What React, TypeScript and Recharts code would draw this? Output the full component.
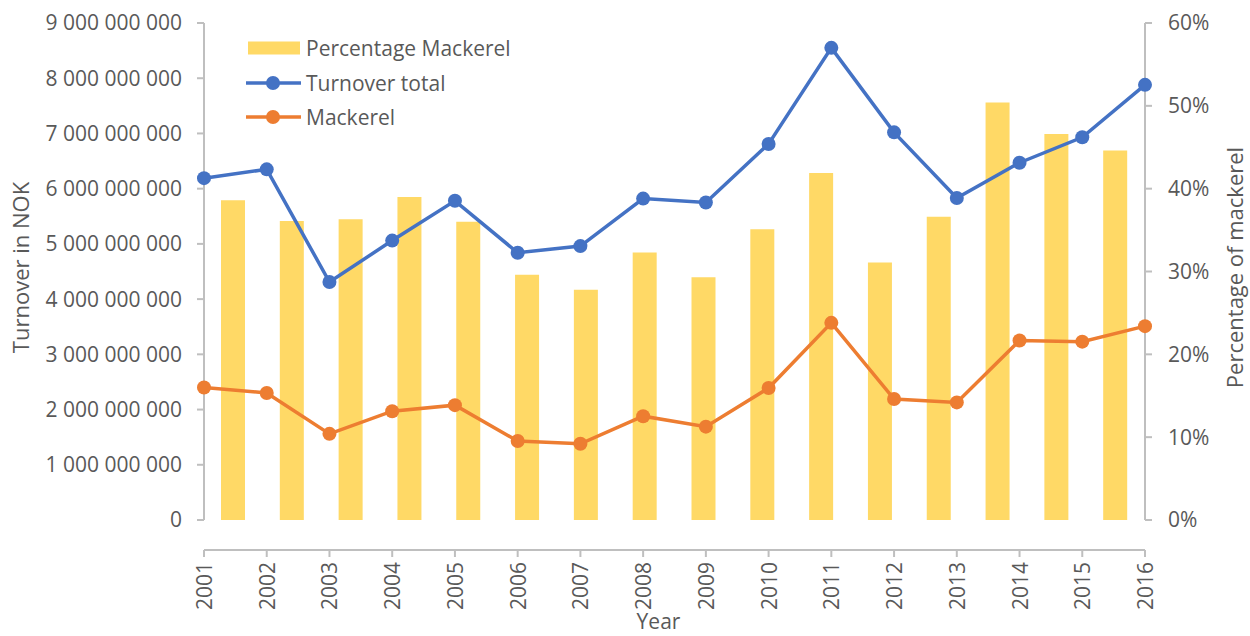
import React from "react";
import { ComposedChart, Bar, Line, XAxis, YAxis, Legend, Label } from "recharts";

const years = [
  "2001", "2002", "2003", "2004", "2005", "2006", "2007", "2008",
  "2009", "2010", "2011", "2012", "2013", "2014", "2015", "2016",
];
const turnoverTotal = [
  6.19e9, 6.35e9, 4.31e9, 5.06e9, 5.78e9, 4.84e9, 4.96e9, 5.82e9,
  5.75e9, 6.81e9, 8.55e9, 7.02e9, 5.83e9, 6.47e9, 6.93e9, 7.88e9,
];
const mackerel = [
  2.4e9, 2.3e9, 1.56e9, 1.97e9, 2.08e9, 1.43e9, 1.38e9, 1.88e9,
  1.69e9, 2.39e9, 3.57e9, 2.19e9, 2.13e9, 3.25e9, 3.23e9, 3.51e9,
];
const percentageMackerel = [
  38.6, 36.1, 36.3, 39.0, 36.0, 29.6, 27.8, 32.3,
  29.3, 35.1, 41.9, 31.1, 36.6, 50.4, 46.6, 44.6,
];
const turnoverTicks = [0, 1e9, 2e9, 3e9, 4e9, 5e9, 6e9, 7e9, 8e9, 9e9];
const percentTicks = [0, 10, 20, 30, 40, 50, 60];

const data = years.map((year, i) => ({
  year,
  total: turnoverTotal[i],
  mackerel: mackerel[i],
  pct: percentageMackerel[i],
}));

const TEXT = "#595959";
const AXIS = "#BFBFBF";
const BLUE = "#4472C4";
const ORANGE = "#ED7D31";
const GOLD = "#FFD966";

const fmtNok = (v: number) => String(v).replace(/\B(?=(\d{3})+(?!\d))/g, " ");

const YearTick = ({ x, y, payload }: any) => (
  <text
    x={x}
    y={y}
    transform={`rotate(-90, ${x}, ${y})`}
    textAnchor="end"
    dominantBaseline="central"
    fill={TEXT}
    fontSize={21}
  >
    {payload.value}
  </text>
);

const legendItems = [
  { name: "Percentage Mackerel", color: GOLD, kind: "bar" },
  { name: "Turnover total", color: BLUE, kind: "line" },
  { name: "Mackerel", color: ORANGE, kind: "line" },
];

const LegendBox = () => (
  <div>
    {legendItems.map((it) => (
      <div
        key={it.name}
        style={{ display: "flex", alignItems: "center", height: 34.5 }}
      >
        <svg width={58} height={20} style={{ marginRight: 2 }}>
          {it.kind === "bar" ? (
            <rect x={2} y={3.5} width={52} height={13} fill={it.color} />
          ) : (
            <g>
              <line x1={0} y1={10} x2={55} y2={10} stroke={it.color} strokeWidth={3.5} />
              <circle cx={27} cy={10} r={7} fill={it.color} />
            </g>
          )}
        </svg>
        <span style={{ fontSize: 21, color: TEXT, whiteSpace: "nowrap" }}>{it.name}</span>
      </div>
    ))}
  </div>
);

// rotated axis title drawn from the axis viewBox
const sideTitle = (text: string, dx: number) => ({ viewBox }: any) => {
  const cx = viewBox.x + dx;
  const cy = viewBox.y + viewBox.height / 2 - 4;
  return (
    <text
      x={cx}
      y={cy}
      transform={`rotate(-90, ${cx}, ${cy})`}
      textAnchor="middle"
      dominantBaseline="central"
      fill={TEXT}
      fontSize={22}
    >
      {text}
    </text>
  );
};

export default function App() {
  return (
    <div style={{ position: "absolute", left: 0, top: 0, fontFamily: "'Open Sans', sans-serif" }}>
      <ComposedChart
        width={1250}
        height={636}
        data={data}
        margin={{ top: 23, right: 0, left: 0, bottom: 0 }}
      >
        <XAxis
          xAxisId="line"
          dataKey="year"
          scale="point"
          height={116}
          stroke={AXIS}
          strokeWidth={2}
          tickSize={7}
          tickMargin={5}
          interval={0}
          tick={<YearTick />}
        >
          <Label
            content={({ viewBox }: any) => (
              <text
                x={viewBox.x + viewBox.width / 2 - 16}
                y={629}
                textAnchor="middle"
                fill={TEXT}
                fontSize={21}
              >
                Year
              </text>
            )}
          />
        </XAxis>
        <XAxis xAxisId="bar" dataKey="year" hide />
        <YAxis
          yAxisId="left"
          width={204}
          domain={[0, 9e9]}
          ticks={turnoverTicks}
          tickFormatter={fmtNok}
          stroke={AXIS}
          strokeWidth={2}
          tickSize={7}
          tickMargin={15}
          tick={{ fill: TEXT, fontSize: 21 }}
        >
          <Label content={sideTitle("Turnover in NOK", 20)} />
        </YAxis>
        <YAxis
          yAxisId="right"
          orientation="right"
          width={105}
          domain={[0, 60]}
          ticks={percentTicks}
          tickFormatter={(v: number) => `${v}%`}
          stroke={AXIS}
          strokeWidth={2}
          tickSize={7}
          tickMargin={16}
          tick={{ fill: TEXT, fontSize: 21 }}
        >
          <Label content={sideTitle("Percentage of mackerel", 89)} />
        </YAxis>
        <Legend
          layout="vertical"
          align="center"
          verticalAlign="middle"
          wrapperStyle={{ left: 246, top: 31, width: 300 }}
          content={<LegendBox />}
        />
        <Bar
          xAxisId="bar"
          yAxisId="right"
          dataKey="pct"
          name="Percentage Mackerel"
          fill={GOLD}
          barSize={24}
          isAnimationActive={false}
        />
        <Line
          xAxisId="line"
          yAxisId="left"
          dataKey="total"
          name="Turnover total"
          stroke={BLUE}
          strokeWidth={3.5}
          dot={{ r: 7, fill: BLUE, stroke: BLUE, strokeWidth: 0 }}
          activeDot={false}
          isAnimationActive={false}
        />
        <Line
          xAxisId="line"
          yAxisId="left"
          dataKey="mackerel"
          name="Mackerel"
          stroke={ORANGE}
          strokeWidth={3.5}
          dot={{ r: 7, fill: ORANGE, stroke: ORANGE, strokeWidth: 0 }}
          activeDot={false}
          isAnimationActive={false}
        />
      </ComposedChart>
    </div>
  );
}
